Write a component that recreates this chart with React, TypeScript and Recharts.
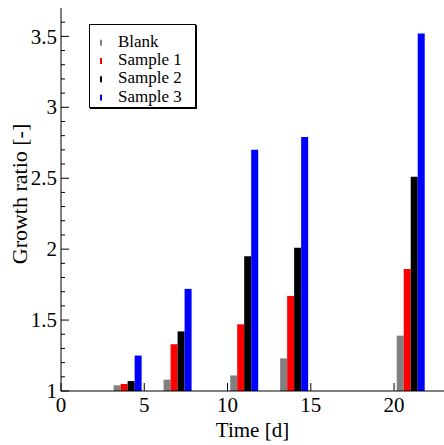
import React from 'react';
import { ComposedChart, Bar, XAxis, YAxis, Legend, Label } from 'recharts';

const days = [4, 7, 11, 14, 21];
const blank = [1.04, 1.08, 1.11, 1.23, 1.39];
const sample1 = [1.05, 1.33, 1.47, 1.67, 1.86];
const sample2 = [1.07, 1.42, 1.95, 2.01, 2.51];
const sample3 = [1.25, 1.72, 2.7, 2.79, 3.52];

const seriesNames = ['Blank', 'Sample 1', 'Sample 2', 'Sample 3'];
const seriesKeys = ['blank', 's1', 's2', 's3'];
const seriesColors = ['#808080', '#ff0000', '#000000', '#0000ff'];

const xTicks = [0, 5, 10, 15, 20];
const yMajorTicks = [1, 1.5, 2, 2.5, 3, 3.5];
const yMinorTicks = [1.1, 1.2, 1.3, 1.4, 1.6, 1.7, 1.8, 1.9, 2.1, 2.2, 2.3, 2.4, 2.6, 2.7, 2.8, 2.9, 3.1, 3.2, 3.3, 3.4, 3.6];
const yAllTicks = [...yMajorTicks, ...yMinorTicks].sort((a, b) => a - b);

const data = days.map((d, i) => ({
  day: d,
  blank: blank[i],
  s1: sample1[i],
  s2: sample2[i],
  s3: sample3[i],
}));

const FONT = '"Liberation Serif", "Times New Roman", serif';

const LeftYTick = (props: any) => {
  const { x, y, payload } = props;
  const v = payload.value;
  const major = yMajorTicks.includes(v);
  return (
    <g>
      <line x1={x} x2={x + (major ? 8 : 4)} y1={y} y2={y} stroke="#000" strokeWidth={1} />
      {major && (
        <text x={x - 4} y={y} dy="0.34em" textAnchor="end" fontSize={21} fontFamily={FONT} fill="#000">
          {String(v)}
        </text>
      )}
    </g>
  );
};

const RightYTick = (props: any) => {
  const { x, y, payload } = props;
  const v = payload.value;
  const major = yMajorTicks.includes(v);
  return <line x1={x} x2={x - (major ? 8 : 4)} y1={y} y2={y} stroke="#000" strokeWidth={1} />;
};

const BottomXTick = (props: any) => {
  const { x, y, payload } = props;
  return (
    <g>
      <line x1={x} x2={x} y1={y} y2={y - 8} stroke="#000" strokeWidth={1} />
      <text x={x} y={y + 21} textAnchor="middle" fontSize={21} fontFamily={FONT} fill="#000">
        {String(payload.value)}
      </text>
    </g>
  );
};

const TopXTick = (props: any) => {
  const { x, y } = props;
  return <line x1={x} x2={x} y1={y} y2={y + 8} stroke="#000" strokeWidth={1} />;
};

const YTitle = () => {
  const cy = 194;
  const bx = 27;
  return (
    <text
      x={bx}
      y={cy}
      textAnchor="middle"
      fontSize={22}
      fontFamily={FONT}
      fill="#000"
      transform={`rotate(-90, ${bx}, ${cy})`}
    >
      Growth ratio [-]
    </text>
  );
};

const LegendBox = (props: any) => {
  const payload = props.payload || [];
  return (
    <svg width={110} height={86} style={{ display: 'block' }}>
      <rect x={1} y={1} width={107} height={84} fill="#000" />
      <rect x={0.5} y={0.5} width={106} height={83} fill="#fff" stroke="#000" strokeWidth={1} />
      {payload.map((p: any, i: number) => {
        const base = 22.7 + i * 18.3;
        return (
          <g key={i}>
            <rect x={11} y={base - 7} width={2} height={6} fill={p.color} />
            <text x={29} y={base} fontSize={17} fontFamily={FONT} fill="#000">
              {p.value}
            </text>
          </g>
        );
      })}
    </svg>
  );
};

export default function App() {
  return (
    <div style={{ position: 'absolute', left: 0, top: 0, width: 444, height: 445, overflow: 'hidden', background: '#fff' }}>
      <ComposedChart
        width={444}
        height={445}
        data={data}
        margin={{ top: 8, right: 0, bottom: 0, left: 0 }}
        barGap={0}
        barSize={7}
      >
        <XAxis
          dataKey="day"
          type="number"
          domain={[0, 23]}
          ticks={xTicks}
          height={54}
          tickSize={0}
          tickMargin={0}
          tickLine={false}
          axisLine={{ stroke: '#000', strokeWidth: 1 }}
          tick={<BottomXTick />}
          interval={0}
          allowDecimals
        >
          <Label value="Time [d]" position="insideBottom" offset={8} fontSize={21} fontFamily={FONT} fill="#000" />
        </XAxis>
        <XAxis
          xAxisId="top"
          dataKey="day"
          type="number"
          orientation="top"
          domain={[0, 23]}
          ticks={xTicks}
          height={0}
          tickSize={0}
          tickMargin={0}
          tickLine={false}
          axisLine={{ stroke: '#000', strokeWidth: 1 }}
          tick={<TopXTick />}
          interval={0}
        />
        <YAxis
          type="number"
          domain={[1, 3.7]}
          ticks={yAllTicks}
          width={61}
          tickSize={0}
          tickMargin={0}
          tickLine={false}
          axisLine={{ stroke: '#000', strokeWidth: 1 }}
          tick={<LeftYTick />}
          interval={0}
          allowDataOverflow
        >
          <Label content={<YTitle />} />
        </YAxis>
        <YAxis
          yAxisId="right"
          orientation="right"
          type="number"
          domain={[1, 3.7]}
          ticks={yAllTicks}
          width={0}
          tickSize={0}
          tickMargin={0}
          tickLine={false}
          axisLine={{ stroke: '#000', strokeWidth: 1 }}
          tick={<RightYTick />}
          interval={0}
          allowDataOverflow
        />
        <Legend
          layout="vertical"
          align="center"
          verticalAlign="middle"
          wrapperStyle={{ left: 89, top: 24, width: 110, height: 86 }}
          content={<LegendBox />}
        />
        {seriesKeys.map((k, i) => (
          <Bar
            key={k}
            dataKey={k}
            name={seriesNames[i]}
            fill={seriesColors[i]}
            isAnimationActive={false}
          />
        ))}
      </ComposedChart>
    </div>
  );
}
